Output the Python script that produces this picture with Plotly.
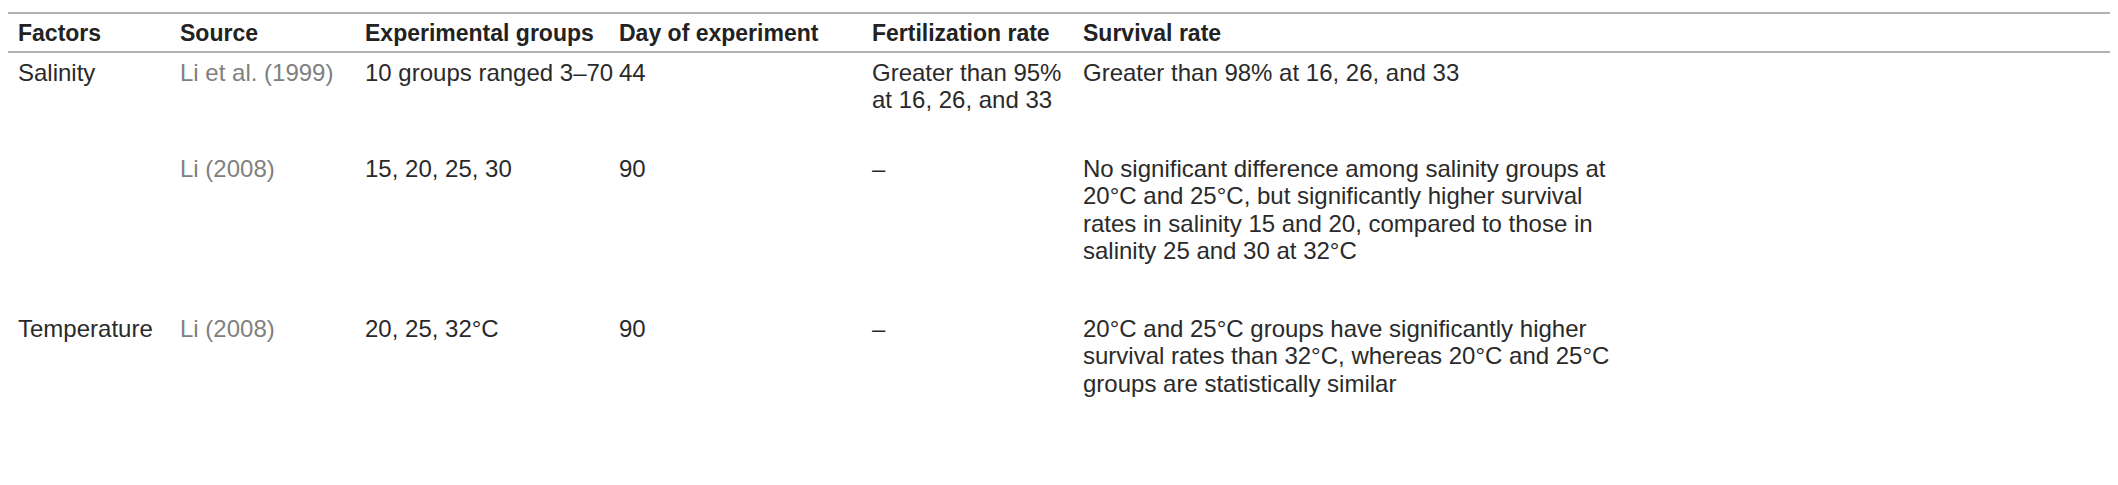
import plotly.graph_objects as go

headers = ["Factors", "Source", "Experimental groups", "Day of experiment", "Fertilization rate", "Survival rate"]
factors = ["Salinity", "", "Temperature"]
sources = ["Li et al. (1999)", "Li (2008)", "Li (2008)"]
groups = ["10 groups ranged 3–70", "15, 20, 25, 30", "20, 25, 32°C"]
days = ["44", "90", "90"]
fert = ["Greater than 95%<br>at 16, 26, and 33", "–", "–"]
surv = ["Greater than 98% at 16, 26, and 33",
        "No significant difference among salinity groups at<br>20°C and 25°C, but significantly higher survival<br>rates in salinity 15 and 20, compared to those in<br>salinity 25 and 30 at 32°C",
        "20°C and 25°C groups have significantly higher<br>survival rates than 32°C, whereas 20°C and 25°C<br>groups are statistically similar"]

col_x = [8, 170, 355, 609, 862, 1073]
row_first = [64, 160, 320]
line_h = 27.5
header_y = 25
FONT = "Liberation Sans"
fs = 24

fig = go.Figure()
ann = []
for h, x in zip(headers, col_x):
    ann.append(dict(x=x, y=header_y, text="<b>" + h + "</b>", xanchor="left", yanchor="middle",
                    font=dict(family=FONT, size=fs - 1, color="#222")))
cols = [factors, sources, groups, days, fert, surv]
for ci, col in enumerate(cols):
    for ri, txt in enumerate(col):
        if not txt:
            continue
        for li, line in enumerate(txt.split("<br>")):
            ann.append(dict(x=col_x[ci], y=row_first[ri] + li * line_h, text=line, xanchor="left",
                            yanchor="middle",
                            font=dict(family=FONT, size=fs, color="#808080" if ci == 1 else "#2a2a2a")))
for a in ann:
    a.update(xref="x", yref="y", showarrow=False)

shapes = [dict(type="line", xref="x", yref="y", x0=0, x1=2118, y0=y, y1=y,
               line=dict(color="#999", width=1.5)) for y in (5, 44, 480)]
fig.update_layout(annotations=ann, shapes=shapes, width=2118, height=485,
                  margin=dict(l=0, r=0, t=0, b=0), plot_bgcolor="white", paper_bgcolor="white",
                  xaxis=dict(range=[0, 2118], visible=False), yaxis=dict(range=[485, 0], visible=False),
                  showlegend=False)
fig.write_html("out.html")
